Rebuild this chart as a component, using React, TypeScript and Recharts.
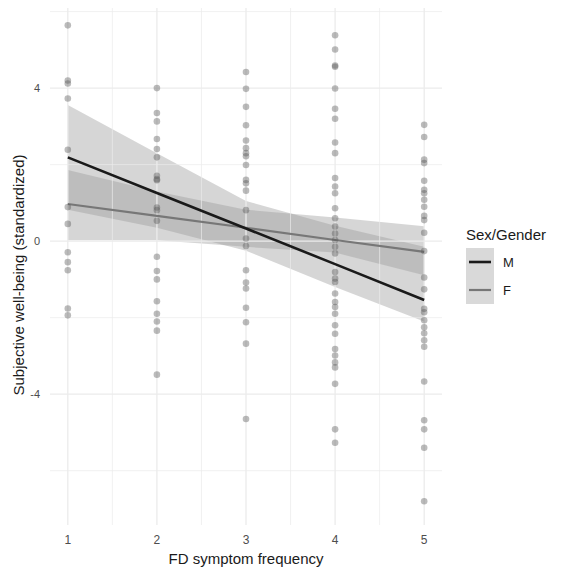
import {
  ComposedChart,
  Scatter,
  Area,
  Line,
  XAxis,
  YAxis,
  ReferenceLine,
  Legend,
} from 'recharts'

const freq1 = [5.64, 4.2, 4.12, 3.73, 2.39, 0.89, 0.45, -0.29, -0.55, -0.76, -1.76, -1.94]
const freq2 = [4.0, 3.35, 3.13, 2.67, 2.41, 2.19, 1.71, 1.62, 1.59, 0.88, 0.81, 0.53, -0.41, -0.78, -1.0, -1.57, -1.9, -2.1, -2.34, -3.49]
const freq3 = [4.42, 3.98, 3.51, 3.03, 2.63, 2.43, 2.3, 2.22, 1.99, 1.6, 1.51, 1.32, 0.81, 0.07, -0.13, -0.76, -1.08, -1.24, -1.74, -2.12, -2.68, -4.65]
const freq4 = [5.38, 5.01, 4.59, 4.56, 3.99, 3.46, 3.2, 2.58, 2.3, 1.65, 1.43, 1.25, 0.86, 0.6, 0.38, 0.2, 0.03, -0.15, -0.32, -0.81, -0.98, -1.07, -1.37, -1.59, -1.72, -1.9, -2.2, -2.42, -2.82, -2.99, -3.17, -3.3, -3.73, -4.92, -5.27]
const freq5 = [3.04, 2.72, 2.13, 2.04, 1.58, 1.34, 1.25, 1.08, 0.9, 0.66, 0.55, 0.22, -0.26, -0.95, -1.26, -1.77, -1.86, -2.07, -2.25, -2.41, -2.59, -2.76, -3.67, -4.68, -4.92, -5.4, -6.8]

// fitted lines and confidence bands at each level
const levels = [1, 2, 3, 4, 5]
const mFit = [2.19, 1.26, 0.33, -0.6, -1.54]
const mLow = [0.82, 0.35, -0.25, -1.2, -2.1]
const mHigh = [3.56, 2.3, 1.05, 0.4, -0.15]
const fFit = [0.97, 0.66, 0.35, 0.03, -0.28]
const fLow = [0.02, 0.02, -0.15, -0.3, -0.89]
const fHigh = [1.86, 1.3, 0.82, 0.62, 0.39]

const xTicks = [1, 2, 3, 4, 5]
const yTicks = [-4, 0, 4]
const xMinor = [1.5, 2.5, 3.5, 4.5]
const yMinor = [-6, -2, 2, 6]

const points = [freq1, freq2, freq3, freq4, freq5].flatMap((col, i) =>
  col.map((y) => ({ x: levels[i], y }))
)

const fits = levels.map((x, i) => ({
  x,
  mFit: mFit[i],
  mBand: [mLow[i], mHigh[i]],
  fFit: fFit[i],
  fBand: [fLow[i], fHigh[i]],
}))

const FONT = '"Liberation Sans", Arial, sans-serif'
const GRID = '#ebebeb'

const Dot = (props: any) => (
  <circle cx={props.cx} cy={props.cy} r={3.3} fill="#555" fillOpacity={0.4} />
)

const YTitle = ({ viewBox }: any) => {
  const cx = viewBox.x + 18
  const cy = viewBox.y + viewBox.height / 2 + 9
  return (
    <text
      x={cx}
      y={cy}
      transform={`rotate(-90 ${cx} ${cy})`}
      textAnchor="middle"
      dominantBaseline="central"
      fontSize={15}
      fill="#1a1a1a"
      fontFamily={FONT}
    >
      Subjective well-being (standardized)
    </text>
  )
}

const XTitle = ({ viewBox }: any) => (
  <text
    x={viewBox.x + viewBox.width / 2}
    y={viewBox.y + viewBox.height + 9}
    textAnchor="middle"
    fontSize={15}
    fill="#1a1a1a"
    fontFamily={FONT}
  >
    FD symptom frequency
  </text>
)

const GenderLegend = () => (
  <div style={{ fontFamily: FONT, color: '#1a1a1a' }}>
    <div style={{ fontSize: 15, marginBottom: 5 }}>Sex/Gender</div>
    {[
      { label: 'M', color: '#1a1a1a', w: 2.6 },
      { label: 'F', color: '#777', w: 2.2 },
    ].map((k) => (
      <div key={k.label} style={{ display: 'flex', alignItems: 'center', height: 28 }}>
        <svg width={28} height={28}>
          <rect width={28} height={28} fill="#d9d9d9" />
          <line x1={3} x2={25} y1={14} y2={14} stroke={k.color} strokeWidth={k.w} />
        </svg>
        <span style={{ fontSize: 13, marginLeft: 9 }}>{k.label}</span>
      </div>
    ))}
  </div>
)

export default function App() {
  return (
    <div style={{ margin: -8, width: 567, height: 579, background: '#fff' }}>
      <ComposedChart
        width={567}
        height={579}
        data={fits}
        margin={{ top: 7, right: 125, bottom: 24, left: 0 }}
      >
        {xMinor.map((v) => (
          <ReferenceLine key={`vx${v}`} x={v} stroke={GRID} strokeWidth={0.7} />
        ))}
        {yMinor.map((v) => (
          <ReferenceLine key={`hy${v}`} y={v} stroke={GRID} strokeWidth={0.7} />
        ))}
        {xTicks.map((v) => (
          <ReferenceLine key={`vX${v}`} x={v} stroke={GRID} strokeWidth={1.3} />
        ))}
        {yTicks.map((v) => (
          <ReferenceLine key={`hY${v}`} y={v} stroke={GRID} strokeWidth={1.3} />
        ))}
        <XAxis
          type="number"
          dataKey="x"
          domain={[0.8, 5.2]}
          ticks={xTicks}
          height={30}
          axisLine={false}
          tickLine={false}
          tickMargin={4}
          tick={{ fontSize: 12, fill: '#4d4d4d', fontFamily: FONT }}
          allowDataOverflow
          label={<XTitle />}
        />
        <YAxis
          type="number"
          domain={[-7.42, 6.12]}
          ticks={yTicks}
          width={50}
          axisLine={false}
          tickLine={false}
          tickMargin={4}
          tick={{ fontSize: 11, fill: '#4d4d4d', fontFamily: FONT }}
          allowDataOverflow
          label={<YTitle />}
        />
        <Legend
          layout="vertical"
          align="center"
          verticalAlign="middle"
          content={<GenderLegend />}
          wrapperStyle={{ left: 466, top: 226, width: 100 }}
        />
        <Scatter data={points} dataKey="y" shape={Dot} isAnimationActive={false} />
        <Area dataKey="mBand" stroke="none" fill="#999" fillOpacity={0.4} isAnimationActive={false} />
        <Area dataKey="fBand" stroke="none" fill="#999" fillOpacity={0.4} isAnimationActive={false} />
        <Line dataKey="fFit" stroke="#777" strokeWidth={2.2} dot={false} isAnimationActive={false} />
        <Line dataKey="mFit" stroke="#1a1a1a" strokeWidth={2.6} dot={false} isAnimationActive={false} />
      </ComposedChart>
    </div>
  )
}
